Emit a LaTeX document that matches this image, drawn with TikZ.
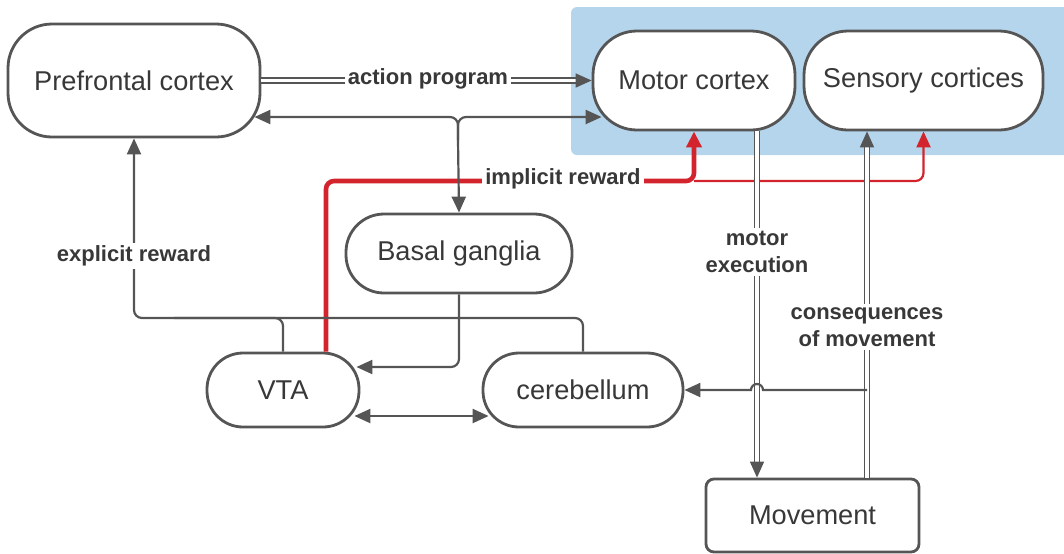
\documentclass[tikz,border=0pt]{standalone}
\usepackage{fontspec}
\setmainfont{Liberation Sans}
\usetikzlibrary{arrows.meta}

\definecolor{linegray}{HTML}{555555}
\definecolor{textgray}{HTML}{383838}
\definecolor{rewardred}{HTML}{D3242E}
\definecolor{cortexblue}{HTML}{B5D5EC}

\tikzset{
  region/.style={draw=linegray, line width=1.4pt, fill=white, rounded corners=#1,
    inner sep=0pt, text=textgray, font=\fontsize{13.6}{16}\selectfont},
  region/.default=22pt,
  tag/.style={fill=white, inner sep=1.5pt, text=textgray, align=center,
    font=\bfseries\fontsize{11}{13.5}\selectfont},
  tip/.style={-{Triangle[length=8pt,width=7pt]}},
  wire/.style={draw=linegray, line width=1.1pt},
  dbl/.style={draw=linegray, line width=0.8pt, double=white, double distance=1.6pt},
  rewthick/.style={draw=rewardred, line width=2.3pt},
  rewthin/.style={draw=rewardred, line width=1.1pt},
}

\begin{document}
\begin{tikzpicture}[x=0.5pt, y=-0.5pt]
    \useasboundingbox (0,0) rectangle (1064,553);
    % cortex area
    \fill[cortexblue, rounded corners=3pt] (571,7) rectangle (1075,155);

    \node[region, minimum width=126pt, minimum height=56.5pt] (pfc) at (134,80.5) {Prefrontal cortex};
    \node[region, minimum width=101pt, minimum height=49.5pt] (motor) at (694,80.5) {Motor cortex};
    \node[region, minimum width=119.5pt, minimum height=49.5pt] (sensory) at (923.5,80.5) {Sensory cortices};
    \node[region=19pt, minimum width=113pt, minimum height=39.5pt] (bg) at (459,253.5) {Basal ganglia};
    \node[region=18pt, minimum width=76pt, minimum height=37pt] (vta) at (283,390) {VTA};
    \node[region=18pt, minimum width=100pt, minimum height=37pt] (cb) at (583,390) {cerebellum};
    \node[region=4pt, minimum width=106.5pt, minimum height=36.5pt] (move) at (812.5,515.5) {Movement};

    \coordinate (jn) at (458,140);
    \coordinate (jy) at (0,117);
    \coordinate (ry) at (0,181);
    \coordinate (ey) at (0,318);
    \coordinate (mx) at (757,0);
    \coordinate (cx) at (867,0);

    % implicit reward
    \draw[rewthick, rounded corners=4pt, -{Triangle[length=8pt,width=7.5pt]}]
        ([xshift=21.5pt]vta.north) |- (motor.south |- ry) -- (motor.south);
    \draw[rewthin, rounded corners=4pt, tip] (motor.south |- ry) -| (sensory.south);

    % action program
    \draw[dbl, tip] (pfc) -- (motor);
    \draw[wire, tip, rounded corners=4pt] (jn) |- ([xshift=-3.5pt]pfc.east |- jy);
    \draw[wire, tip, rounded corners=4pt] (jn) |- ([xshift=5pt]motor.west |- jy);
    \draw[wire, tip] (jn) -- (bg.north);

    % explicit reward
    \draw[wire, tip, rounded corners=4pt] (cb.north) |- (pfc.south |- ey) -- (pfc.south);
    \draw[wire, rounded corners=4pt] (vta.north) |- ([xshift=20pt]pfc.south |- ey);

    \draw[wire, tip, rounded corners=4pt] (bg.south) |- ([shift={(-2pt,11.5pt)}]vta.east);
    \draw[wire, {Triangle[length=8pt,width=7pt]}-{Triangle[length=8pt,width=7pt]}]
        ([shift={(-3pt,-13pt)}]vta.east) -- ([shift={(3.5pt,-13pt)}]cb.west);

    % motor execution and its consequences
    \draw[dbl, tip] (motor.south -| mx) -- (move.north -| mx);
    \draw[dbl, tip] (move.north -| cx) -- (sensory.south -| cx);
    \draw[wire, tip] (cb.east -| cx) -- ([xshift=3pt]cb.east -| mx)
        arc[start angle=0, end angle=180, radius=3pt] -- (cb.east);

    \node[tag] (aplabel) at (428,79) {action program};
    \node[tag] (irlabel) at (563,179) {implicit reward};
    \node[tag] (erlabel) at (134,256) {explicit reward};
    \node[tag] (melabel) at (757,252) {motor\\execution};
    \node[tag] (cmlabel) at (867,327) {consequences\\of movement};
\end{tikzpicture}
\end{document}
